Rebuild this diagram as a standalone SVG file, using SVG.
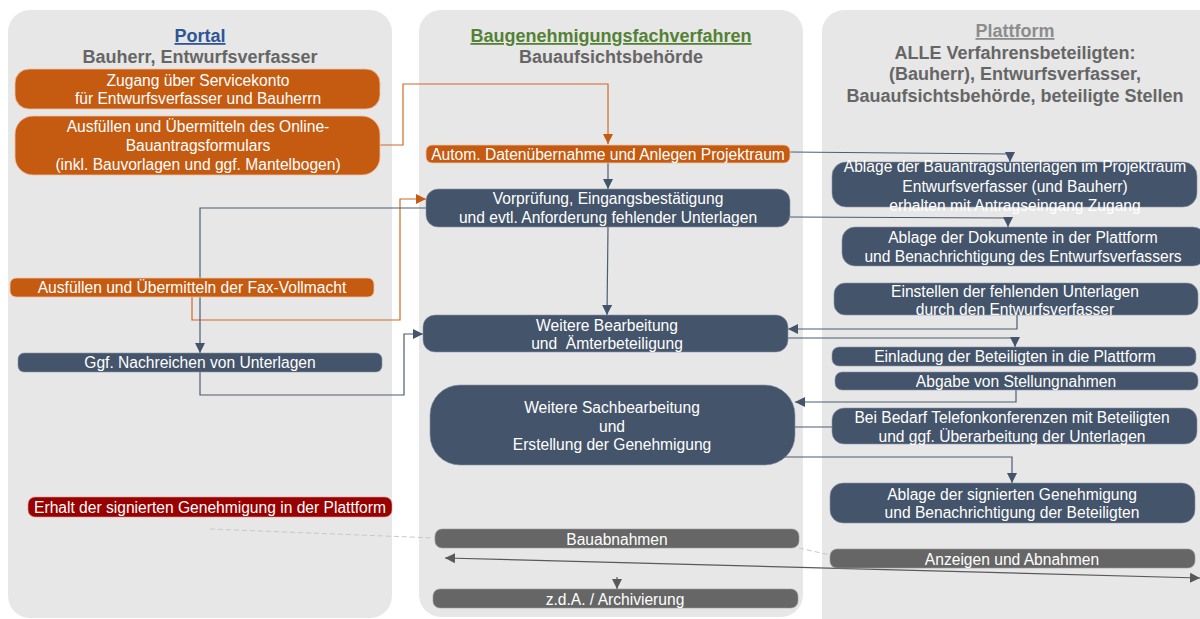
<svg xmlns="http://www.w3.org/2000/svg" width="1200" height="619" viewBox="0 0 1200 619">
<style>
.panel{fill:#e7e7e7}
.or{fill:#c55a11;stroke:#f2c4a4;stroke-width:0.8}
.bl{fill:#44546a;stroke:#8a96a8;stroke-width:0.6}
.rd{fill:#990000;stroke:#d99;stroke-width:0.6}
.gr{fill:#666666;stroke:#999;stroke-width:0.6}
.t{font-family:"Liberation Sans",Arial,sans-serif;font-size:15.6px;fill:#ffffff;text-anchor:middle}
.h{font-family:"Liberation Sans",Arial,sans-serif;font-size:18px;font-weight:bold;text-anchor:middle;fill:#666666}
.cb{fill:none;stroke:#4d5d73;stroke-width:1.2}
.co{fill:none;stroke:#d06a28;stroke-width:1.2}
.cg{fill:none;stroke:#595959;stroke-width:1.2}
.cd{fill:none;stroke:#c8c8c8;stroke-width:1;stroke-dasharray:5,3}
</style>
<defs>
<marker id="ab" markerUnits="userSpaceOnUse" markerWidth="12" markerHeight="12" refX="10" refY="5" orient="auto"><path d="M0,0 L10,5 L0,10 z" fill="#44546a"/></marker>
<marker id="ao" markerUnits="userSpaceOnUse" markerWidth="12" markerHeight="12" refX="10" refY="5" orient="auto"><path d="M0,0 L10,5 L0,10 z" fill="#c55a11"/></marker>
<marker id="ag" markerUnits="userSpaceOnUse" markerWidth="12" markerHeight="12" refX="10" refY="5" orient="auto-start-reverse"><path d="M0,0 L10,5 L0,10 z" fill="#595959"/></marker>
</defs>
<rect width="1200" height="619" fill="#ffffff"/>
<g id="panels">
<rect class="panel" x="8" y="10" width="384" height="608" rx="22"/>
<rect class="panel" x="419" y="10" width="384" height="607" rx="22"/>
<rect class="panel" x="822" y="10" width="400" height="630" rx="22"/>
</g>
<g id="headers">
<text class="h" x="200" y="42" style="fill:#2f5597" text-decoration="underline">Portal</text>
<text class="h" x="200" y="63">Bauherr, Entwurfsverfasser</text>
<text class="h" x="611" y="42" style="fill:#538135" text-decoration="underline">Baugenehmigungsfachverfahren</text>
<text class="h" x="611" y="63">Bauaufsichtsbehörde</text>
<text class="h" x="1015" y="37" style="fill:#8c8c8c" text-decoration="underline">Plattform</text>
<text class="h" x="1015" y="59">ALLE Verfahrensbeteiligten:</text>
<text class="h" x="1015" y="80">(Bauherr), Entwurfsverfasser,</text>
<text class="h" x="1015" y="102">Bauaufsichtsbehörde, beteiligte Stellen</text>
</g>
<g id="connectors">
<path class="co" d="M380,145 H403 V84 H608 V144" marker-end="url(#ao)"/>
<path class="cb" d="M608,163 V189" marker-end="url(#ab)"/>
<path class="co" d="M192,297 V320 H400 V199 H426" marker-end="url(#ao)"/>
<path class="cb" d="M426,208 H200 V353" marker-end="url(#ab)"/>
<path class="cb" d="M200,372 V395 H404 V334 H423" marker-end="url(#ab)"/>
<path class="cb" d="M608,227 L607,315" marker-end="url(#ab)"/>
<path class="cb" d="M790,152 L1010,154 V162" marker-end="url(#ab)"/>
<path class="cb" d="M790,217 L1008,218 V227" marker-end="url(#ab)"/>
<path class="cb" d="M1017,315 V329 H788" marker-end="url(#ab)"/>
<path class="cb" d="M788,338 H1015 V347" marker-end="url(#ab)"/>
<path class="cb" d="M1016,390 V402 H795" marker-end="url(#ab)"/>
<path class="cb" d="M795,427 H832"/>
<path class="cb" d="M780,457 H1012 V483" marker-end="url(#ab)"/>
<path class="cd" d="M210,529 L435,538"/>
<path class="cd" d="M799,548 L830,555"/>
<path class="cg" d="M445,558 L1200,578" marker-start="url(#ag)" marker-end="url(#ag)"/>
<path class="cg" d="M617,577 V589" marker-end="url(#ag)"/>
</g>
<g id="n1"><rect class="or" x="15" y="69" width="365" height="40" rx="14"/>
<text class="t" x="198" y="86">Zugang über Servicekonto</text><text class="t" x="198" y="104">für Entwurfsverfasser und Bauherrn</text></g>
<g id="n2"><rect class="or" x="15" y="116" width="365" height="59" rx="18"/>
<text class="t" x="198" y="132">Ausfüllen und Übermitteln des Online-</text><text class="t" x="198" y="151">Bauantragsformulars</text><text class="t" x="198" y="170">(inkl. Bauvorlagen und ggf. Mantelbogen)</text></g>
<g id="n3"><rect class="or" x="10" y="278" width="364" height="19" rx="6"/>
<text class="t" x="192" y="293">Ausfüllen und Übermitteln der Fax-Vollmacht</text></g>
<g id="n4"><rect class="bl" x="18" y="353" width="364" height="19" rx="6"/>
<text class="t" x="200" y="368">Ggf. Nachreichen von Unterlagen</text></g>
<g id="n5"><rect class="rd" x="28" y="497" width="364" height="20" rx="7"/>
<text class="t" x="210" y="513">Erhalt der signierten Genehmigung in der Plattform</text></g>
<g id="n6"><rect class="or" x="426" y="145" width="364" height="18" rx="6"/>
<text class="t" x="608" y="160">Autom. Datenübernahme und Anlegen Projektraum</text></g>
<g id="n7"><rect class="bl" x="426" y="189" width="364" height="38" rx="12"/>
<text class="t" x="608" y="204">Vorprüfung, Eingangsbestätigung</text><text class="t" x="608" y="223">und evtl. Anforderung fehlender Unterlagen</text></g>
<g id="n8"><rect class="bl" x="423" y="315" width="365" height="37" rx="12"/>
<text class="t" x="607" y="331">Weitere Bearbeitung</text><text class="t" x="607" y="349" xml:space="preserve">und  Ämterbeteiligung</text></g>
<g id="n9"><rect class="bl" x="430" y="385" width="365" height="80" rx="30"/>
<text class="t" x="612" y="413">Weitere Sachbearbeitung</text><text class="t" x="612" y="432">und</text><text class="t" x="612" y="450">Erstellung der Genehmigung</text></g>
<g id="n10"><rect class="gr" x="435" y="529" width="364" height="19" rx="7"/>
<text class="t" x="617" y="545">Bauabnahmen</text></g>
<g id="n11"><rect class="gr" x="433" y="589" width="365" height="19" rx="7"/>
<text class="t" x="615" y="605">z.d.A. / Archivierung</text></g>
<g id="n12"><rect class="bl" x="832" y="162" width="365" height="45" rx="14"/>
<text class="t" x="1015" y="172">Ablage der Bauantragsunterlagen im Projektraum</text><text class="t" x="1015" y="192">Entwurfsverfasser (und Bauherr)</text><text class="t" x="1015" y="211">erhalten mit Antragseingang Zugang</text></g>
<g id="n13"><rect class="bl" x="842" y="227" width="364" height="39" rx="13"/>
<text class="t" x="1023" y="243">Ablage der Dokumente in der Plattform</text><text class="t" x="1023" y="262">und Benachrichtigung des Entwurfsverfassers</text></g>
<g id="n14"><rect class="bl" x="834" y="283" width="364" height="32" rx="11"/>
<text class="t" x="1015" y="297">Einstellen der fehlenden Unterlagen</text><text class="t" x="1015" y="315">durch den Entwurfsverfasser</text></g>
<g id="n15"><rect class="bl" x="832" y="347" width="364" height="19" rx="7"/>
<text class="t" x="1015" y="362">Einladung der Beteiligten in die Plattform</text></g>
<g id="n16"><rect class="bl" x="835" y="372" width="363" height="18" rx="7"/>
<text class="t" x="1016" y="387">Abgabe von Stellungnahmen</text></g>
<g id="n17"><rect class="bl" x="832" y="408" width="365" height="36" rx="12"/>
<text class="t" x="1012" y="423">Bei Bedarf Telefonkonferenzen mit Beteiligten</text><text class="t" x="1012" y="442">und ggf. Überarbeitung der Unterlagen</text></g>
<g id="n18"><rect class="bl" x="830" y="483" width="365" height="40" rx="13"/>
<text class="t" x="1012" y="500">Ablage der signierten Genehmigung</text><text class="t" x="1012" y="518">und Benachrichtigung der Beteiligten</text></g>
<g id="n19"><rect class="gr" x="830" y="549" width="365" height="19" rx="7"/>
<text class="t" x="1012" y="565">Anzeigen und Abnahmen</text></g>
</svg>
